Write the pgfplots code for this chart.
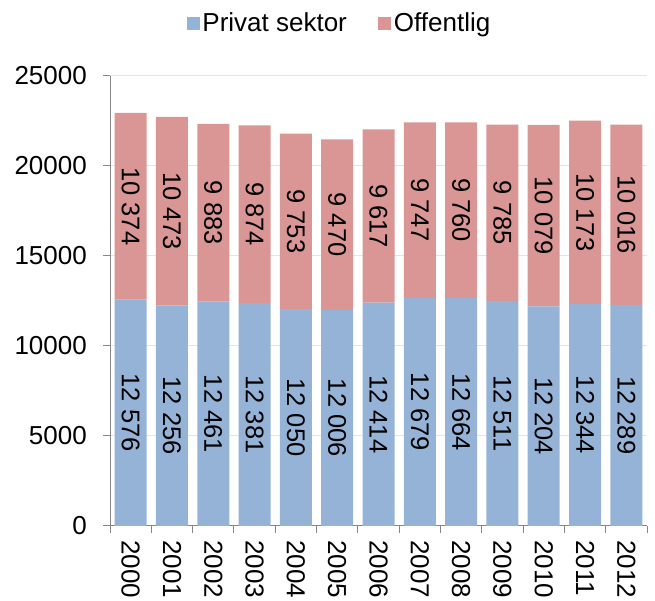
\documentclass[border=0pt]{standalone}
\usepackage{pgfplots}
\pgfplotsset{compat=1.18}
\usepackage{pgfplotstable}
\usepackage{fontspec}
\setmainfont{Liberation Sans}
\definecolor{priv}{RGB}{149,179,215}
\definecolor{offc}{RGB}{217,150,148}
\definecolor{gridc}{RGB}{220,230,242}
\definecolor{axc}{RGB}{134,134,134}

\pgfplotstableread{
x priv off
0 12576 10374
1 12256 10473
2 12461 9883
3 12381 9874
4 12050 9753
5 12006 9470
6 12414 9617
7 12679 9747
8 12664 9760
9 12511 9785
10 12204 10079
11 12344 10173
12 12289 10016
}\data

\begin{document}
\fontsize{26}{30}\selectfont
\begin{tikzpicture}[x=1pt,y=1pt]
\pgfplotsset{
  base/.style={scale only axis, width=537pt, height=450pt,
    at={(110pt,75pt)}, anchor=south west,
    xmin=-0.5, xmax=12.5, ymin=0, ymax=25000}
}
\begin{axis}[base, ybar stacked, bar width=32pt,
  axis x line*=bottom, axis y line*=left,
  axis line style={axc, line width=1pt},
  tick align=outside,
  ytick={0,5000,...,25000},
  scaled y ticks=false,
  ymajorgrids, major grid style={gridc, line width=1pt},
  major tick length=7pt, minor tick length=7pt,
  xtick={0,...,12},
  xticklabels={2000,2001,2002,2003,2004,2005,2006,2007,2008,2009,2010,2011,2012},
  minor xtick={-0.5,0.5,...,12.5},
  major x tick style={draw=none},
  minor x tick style={axc, line width=1pt},
  y tick style={axc, line width=1pt},
  xticklabel style={rotate=-90, anchor=west, inner sep=0pt, xshift=7pt},
  yticklabel style={anchor=east, inner sep=0pt, xshift=-16pt},
  /pgf/number format/1000 sep={},
  /pgf/number format/assume math mode=true,
  legend style={at={(0.428,1.1156)}, anchor=center, draw=none, fill=none,
    legend columns=2, /tikz/every even column/.append style={column sep=29pt},
    nodes={inner sep=2.5pt}},
]
\addplot[fill=priv, draw=none,
  legend image code/.code={\fill[priv] (0pt,-6pt) rectangle (13pt,7pt);}]
  table[x=x,y=priv]{\data};
\addplot[fill=offc, draw=none,
  legend image code/.code={\fill[offc] (0pt,-6pt) rectangle (13pt,7pt);}]
  table[x=x,y=off]{\data};
\legend{Privat sektor, Offentlig}
\end{axis}
\begin{axis}[base, hide axis,
  /pgf/number format/1000 sep={\ },
  /pgf/number format/assume math mode=true]
\addplot[draw=none, mark=none, nodes near coords, point meta=explicit,
  nodes near coords style={anchor=center, rotate=-90, inner sep=0pt,
    font=\fontsize{25.5}{30}\selectfont}]
  table[x=x, y expr=\thisrow{priv}/2, meta=priv]{\data};
\addplot[draw=none, mark=none, nodes near coords, point meta=explicit,
  nodes near coords style={anchor=center, rotate=-90, inner sep=0pt,
    font=\fontsize{25.5}{30}\selectfont}]
  table[x=x, y expr=\thisrow{priv}+\thisrow{off}/2, meta=off]{\data};
\end{axis}
\pgfresetboundingbox
\path[use as bounding box] (0,0) rectangle (655,601);
\end{tikzpicture}
\end{document}
